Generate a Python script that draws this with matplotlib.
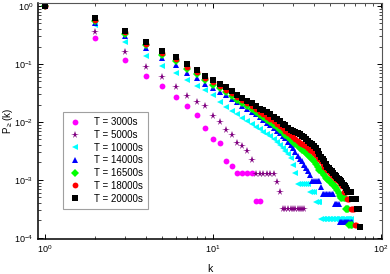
import matplotlib
matplotlib.use("Agg")
import matplotlib.pyplot as plt

plt.rcParams['font.family'] = ['Liberation Sans', 'DejaVu Sans']
plt.rcParams['mathtext.default'] = 'regular'

# cumulative degree distribution P(K >= k), k = 1, 2, 3, ...
labels = ["T = 3000s", "T = 5000s", "T = 10000s", "T = 14000s",
          "T = 16500s", "T = 18000s", "T = 20000s"]

p_3000 = [1.0, 0.277, 0.117, 0.061, 0.042, 0.027, 0.0187, 0.013, 0.0078, 0.0051,
          0.0043, 0.0021, 0.00174] + [0.0013] * 4 + [0.00044] * 2

p_5000 = [1.0, 0.356, 0.16, 0.089, 0.059, 0.040, 0.028, 0.0224, 0.0187, 0.0129,
          0.0098, 0.0072, 0.006, 0.0044, 0.0038, 0.0032, 0.0022] + [0.00127] * 6 \
         + [0.00093, 0.00063] + [0.00031] * 10

p_10000 = [1.0, 0.47, 0.243, 0.137, 0.094, 0.069, 0.052, 0.042, 0.035, 0.029,
           0.022, 0.0184, 0.0155, 0.0135, 0.0117, 0.0105, 0.0092, 0.0082, 0.0076, 0.0068,
           0.0062, 0.0057, 0.0051, 0.0045, 0.0040, 0.0036, 0.0032, 0.0028, 0.0024,
           0.0018, 0.0013] + [0.00086] * 6 + [0.00063] * 3 + [0.00042] * 3 + [0.00021] * 23

p_14000 = [1.0, 0.515, 0.30, 0.187, 0.125, 0.096, 0.071, 0.057, 0.045, 0.038,
           0.033, 0.029, 0.025, 0.022, 0.019, 0.017, 0.015, 0.0135, 0.012, 0.0108,
           0.0097, 0.0088, 0.0079, 0.0071, 0.0064, 0.0058, 0.0052, 0.0046, 0.0040, 0.0035,
           0.0030, 0.0026, 0.0023, 0.0021, 0.0018, 0.0016, 0.0014, 0.0012] \
          + [0.00094] * 5 + [0.00075] + [0.00057] * 8 + [0.00038] * 4 + [0.00019] * 11

p_16500 = [1.0, 0.56, 0.33, 0.21, 0.145, 0.112, 0.083, 0.066, 0.053, 0.044,
           0.038, 0.033, 0.028, 0.024, 0.021, 0.0185, 0.0165, 0.0148, 0.0133, 0.012,
           0.0108, 0.0098, 0.0089, 0.0081, 0.0073, 0.0066, 0.0060, 0.0054, 0.0049, 0.0045,
           0.0041, 0.0038, 0.0035, 0.0033, 0.0031, 0.0029, 0.0027, 0.0025, 0.0023, 0.0021,
           0.0019, 0.0017, 0.0015, 0.0014, 0.0013, 0.0012, 0.0011, 0.00105, 0.00098, 0.00092,
           0.00087, 0.00082, 0.00078, 0.00072, 0.00067, 0.0006, 0.00052] \
          + [0.00048] * 4 + [0.00032] * 3 + [0.000165] * 3

p_18000 = [1.0, 0.58, 0.35, 0.222, 0.155, 0.12, 0.09, 0.072, 0.058, 0.048,
           0.041, 0.036, 0.031, 0.027, 0.0235, 0.021, 0.0188, 0.0168, 0.015, 0.0136,
           0.0124, 0.0113, 0.0103, 0.0093, 0.0085, 0.0078, 0.0071, 0.0065, 0.0059, 0.0054,
           0.005, 0.0047, 0.0044, 0.0042, 0.004, 0.0038, 0.0036, 0.0033, 0.0031, 0.0029,
           0.0027, 0.0025, 0.0023, 0.0021, 0.0019, 0.0017, 0.0016, 0.0015, 0.0014, 0.0013,
           0.0012, 0.00115, 0.0011, 0.00105, 0.001, 0.00095, 0.0009, 0.00085, 0.0008] \
          + [0.00063] * 3 + [0.00047] * 3 + [0.00032] * 4 + [0.000165] * 2

p_20000 = [1.0, 0.61, 0.376, 0.243, 0.17, 0.134, 0.099, 0.079, 0.063, 0.053,
           0.046, 0.040, 0.034, 0.029, 0.026, 0.023, 0.021, 0.019, 0.017, 0.0158,
           0.0147, 0.0135, 0.0122, 0.0112, 0.0102, 0.0094, 0.0088, 0.008, 0.0074, 0.0069,
           0.0066, 0.0064, 0.0062, 0.0058, 0.0054, 0.005, 0.0047, 0.0044, 0.0041, 0.0038,
           0.0035, 0.0032, 0.0028, 0.0025, 0.0023, 0.0021, 0.0019, 0.0017, 0.0016, 0.0015,
           0.0014, 0.0013, 0.0012, 0.00115, 0.0011, 0.00105, 0.001, 0.00094, 0.00088, 0.00082,
           0.00078, 0.00074, 0.00068] \
          + [0.00063] * 3 + [0.00047] * 5 + [0.00031] * 3 + [0.000157]

series = [p_3000, p_5000, p_10000, p_14000, p_16500, p_18000, p_20000]
colors = ['#ff00ff', '#800080', '#00ffff', '#0000ff', '#00ff00', '#ff0000', '#000000']
markers = ['o', '*', '<', '^', 'D', 'o', 's']
sizes = [4.2, 5.5, 4.6, 4.6, 3.6, 4.2, 4.2]

fig = plt.figure(figsize=(3.9, 2.74), dpi=100)
ax = fig.add_axes([0.0974, 0.128, 0.882, 0.861])

for p, lab, c, m, ms in zip(series, labels, colors, markers, sizes):
    k = list(range(1, len(p) + 1))
    ax.plot(k, p, linestyle='none', marker=m, color=c, markersize=ms,
            markeredgewidth=0, label=lab)

ax.set_xscale('log')
ax.set_yscale('log')
ax.set_xlim(0.91, 101.5)
ax.set_ylim(9.6e-5, 1.127)

ax.tick_params(which='both', direction='in', top=True, right=True, labelsize=6.5)
ax.tick_params(which='major', length=3.5, width=0.7)
ax.tick_params(which='minor', length=2, width=0.5)
for side in ['left', 'bottom']:
    ax.spines[side].set_linewidth(1.1)
for side in ['top', 'right']:
    ax.spines[side].set_linewidth(0.8)
    ax.spines[side].set_color('#555555')

ax.set_xlabel('k', fontsize=7.5, labelpad=6)
ax.set_ylabel(r'P$_{\geq}$(k)', fontsize=7)
ax.yaxis.set_label_coords(-0.066, 0.5)

leg = ax.legend(loc='lower left', bbox_to_anchor=(0.073, 0.127), fontsize=7,
                numpoints=1, frameon=True, fancybox=False, borderpad=0.55,
                labelspacing=0.28, handletextpad=1.3, handlelength=1.3,
                borderaxespad=0)
leg.get_frame().set_edgecolor('#888888')
leg.get_frame().set_linewidth(0.8)

fig.savefig('out.png', dpi=100)
